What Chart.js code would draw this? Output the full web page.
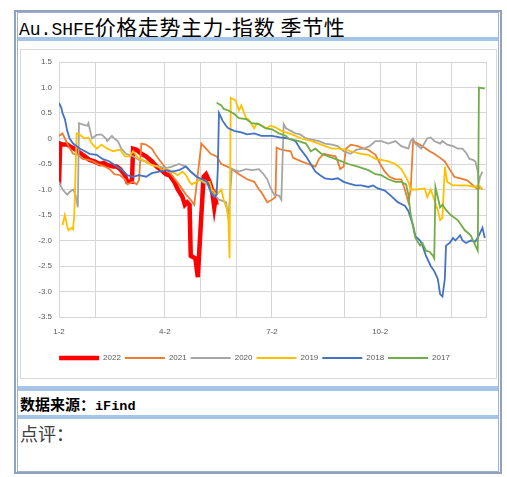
<html>
  <head>
    <meta charset="utf-8">
    <title>Au.SHFE价格走势主力-指数 季节性</title>
    <script src="https://cdn.jsdelivr.net/npm/chart.js@4.4.1/dist/chart.umd.min.js"></script>
    <style>
      body { margin: 0; background: #fff; }
      .abs { position: absolute; box-sizing: border-box; }
      .bar { background: #a6c4e6; }
    </style>
  </head>
  <body>
    <div class="abs" style="left:14px;top:10px;width:488px;height:464px;border:2px solid #8fa3c0;"></div>
    <div class="abs" style="left:17px;top:12px;width:482px;height:460px;border:1px solid #9fb2cd;"></div>
    <div class="abs" style="left:19px;top:14px;font:21px 'Noto Sans CJK SC';letter-spacing:0.6px;line-height:24px;color:#000;white-space:nowrap;"><span style="font:18px 'Liberation Mono';letter-spacing:0;">Au.SHFE</span>价格走势主力-指数 季节性</div>
    <div class="abs bar" style="left:18px;top:37px;width:480px;height:4px;"></div>
    <div class="abs" style="left:20px;top:49px;width:477px;height:330px;border:1px solid #d9d9d9;"></div>
    <canvas id="myChart" class="abs" width="475" height="328" style="left:21px;top:50px;"></canvas>
    <div class="abs bar" style="left:18px;top:386px;width:480px;height:5px;"></div>
    <div class="abs" style="left:20px;top:394px;font:bold 15px 'Noto Sans CJK SC';line-height:20px;color:#000;white-space:nowrap;">数据来源：<span style="font:bold 13.5px 'Liberation Mono';">iFind</span></div>
    <div class="abs bar" style="left:18px;top:415px;width:480px;height:4px;"></div>
    <div class="abs" style="left:20px;top:421px;font:18px 'Noto Sans CJK SC';line-height:24px;color:#404040;">点评：</div>

    <script type="text/javascript">
      // x = days counted from Jan 2
      const gridDays = [0, 31, 90, 120, 151, 181, 243, 273, 304, 334, 363];
      const labelDays = [0, 90, 181, 273];
      const dateLabels = ['1-2', '4-2', '7-2', '10-2'];
      const years = ['2022', '2021', '2020', '2019', '2018', '2017'];

      const s2022 = [[0,-0.9],[1,-0.1],[3,-0.12],[7,-0.12],[9,-0.15],[13,-0.2],[16,-0.25],[19,-0.3],[22,-0.35],[26,-0.42],[30,-0.45],[35,-0.5],[38,-0.48],[41,-0.52],[46,-0.55],[49,-0.55],[52,-0.6],[56,-0.72],[58,-0.85],[62,-0.85],[63,-0.2],[66,-0.22],[70,-0.3],[74,-0.35],[79,-0.45],[83,-0.55],[87,-0.62],[91,-0.7],[94,-0.72],[98,-0.85],[101,-1.0],[105,-1.15],[107,-1.3],[109,-1.25],[111,-1.3],[112,-2.3],[116,-2.35],[118,-2.72],[121,-1.5],[123,-0.75],[125,-0.7],[128,-0.85],[130,-1.0],[132,-1.35],[133,-1.2],[134,-1.3]];
      const s2021 = [[0,0.05],[3,0.1],[5,0],[8,-0.15],[12,-0.3],[16,-0.32],[20,-0.4],[25,-0.42],[29,-0.45],[33,-0.5],[39,-0.55],[43,-0.6],[47,-0.7],[52,-0.72],[56,-0.8],[58,-0.9],[63,-0.85],[66,-0.9],[68,-0.82],[70,-0.1],[74,-0.12],[79,-0.2],[83,-0.35],[88,-0.5],[92,-0.62],[96,-0.72],[102,-0.9],[108,-1.1],[112,-1.2],[115,-1.3],[121,-0.1],[125,-0.2],[129,-0.3],[134,-0.35],[138,-0.5],[143,-0.55],[147,-0.6],[153,-0.7],[160,-0.8],[166,-0.85],[170,-1.0],[172,-1.05],[177,-1.25],[181,-1.2],[184,-1.15],[185,-0.18],[189,-0.22],[197,-0.25],[199,-0.38],[206,-0.45],[212,-0.5],[218,-0.55],[221,-0.4],[225,-0.3],[229,-0.32],[235,-0.35],[237,-0.45],[239,-0.6],[242,-0.55],[244,-0.2],[248,-0.12],[254,-0.15],[259,-0.2],[263,-0.22],[269,-0.32],[273,-0.5],[277,-0.65],[281,-0.75],[286,-0.8],[291,-0.8],[294,-1.0],[297,-1.25],[299,-1.0],[301,-0.05],[305,-0.1],[311,-0.18],[315,-0.25],[319,-0.3],[324,-0.38],[328,-0.45],[332,-0.6],[336,-0.75],[341,-0.78],[347,-0.82],[352,-0.92],[356,-1.0],[358,-0.95],[360,-1.0]];
      const s2020 = [[0,-0.85],[3,-1.0],[7,-1.1],[9,-1.05],[12,-1.0],[14,-1.1],[16,-1.35],[17,0.3],[19,0.28],[24,0.25],[25,0.3],[28,0],[32,0.07],[36,0.08],[40,0],[41,-0.05],[45,0.05],[47,0],[50,-0.05],[53,-0.2],[57,-0.3],[63,-0.35],[68,-0.42],[74,-0.45],[79,-0.52],[85,-0.55],[91,-0.58],[96,-0.55],[102,-0.5],[108,-0.55],[112,-0.65],[117,-0.75],[122,-0.85],[126,-0.9],[130,-1.05],[136,-1.2],[142,-1.25],[144,-1.55],[147,-0.6],[153,-0.65],[159,-0.6],[164,-0.62],[170,-0.6],[174,-0.7],[177,-0.8],[180,-0.98],[183,-1.1],[187,-1.12],[189,-1.2],[191,0.28],[193,0.2],[197,0.15],[201,0.1],[205,0.08],[210,0],[215,-0.02],[221,-0.05],[226,-0.1],[232,-0.12],[237,-0.15],[242,-0.25],[248,-0.3],[253,-0.22],[259,-0.2],[264,-0.15],[269,-0.05],[274,-0.05],[280,-0.1],[286,-0.05],[291,-0.15],[297,-0.2],[299,-0.05],[301,0],[303,-0.1],[308,-0.2],[313,0],[316,0.02],[319,-0.05],[324,-0.1],[326,-0.05],[330,-0.12],[335,-0.15],[339,-0.2],[343,-0.2],[346,-0.28],[349,-0.4],[352,-0.42],[354,-0.45],[356,-0.65],[357,-0.85],[358,-0.75],[360,-0.65]];
      const s2019 = [[3,-1.7],[5,-1.5],[7,-1.72],[8,-1.8],[11,-1.75],[12,-1.78],[13,-1.5],[15,0.1],[16,0.1],[19,0.05],[22,0],[25,0.02],[28,-0.1],[32,-0.2],[36,-0.12],[41,-0.2],[46,-0.25],[52,-0.22],[56,-0.35],[60,-0.35],[63,-0.25],[67,-0.38],[71,-0.42],[75,-0.48],[79,-0.52],[84,-0.55],[88,-0.62],[92,-0.6],[96,-0.65],[101,-0.72],[105,-0.65],[108,-0.72],[111,-0.85],[113,-0.9],[117,-0.85],[121,-0.8],[123,-0.85],[128,-0.85],[130,-1.0],[134,-1.1],[138,-1.0],[140,-1.2],[143,-1.4],[144,-1.6],[145,-2.35],[146,0.8],[150,0.75],[153,0.55],[155,0.65],[159,0.4],[161,0.38],[166,0.2],[168,0.3],[172,0.25],[176,0.2],[180,0.25],[184,0.22],[189,0.15],[198,0.08],[206,0],[215,-0.05],[223,-0.12],[232,-0.2],[240,-0.2],[248,-0.25],[257,-0.3],[263,-0.32],[269,-0.4],[274,-0.42],[280,-0.45],[286,-0.5],[291,-0.6],[294,-0.72],[297,-0.85],[299,-1.0],[305,-1.0],[311,-0.98],[313,-1.15],[316,-1.0],[319,-1.2],[322,-1.4],[324,-1.6],[326,-1.55],[328,-0.55],[330,-0.85],[335,-0.92],[341,-0.92],[347,-0.92],[353,-0.95],[357,-0.92],[360,-1.0]];
      const s2018 = [[0,0.7],[2,0.6],[3,0.5],[5,0.38],[7,0.15],[9,0],[12,-0.1],[18,-0.2],[22,-0.25],[26,-0.3],[32,-0.32],[37,-0.4],[43,-0.45],[49,-0.55],[54,-0.62],[58,-0.72],[63,-0.75],[68,-0.72],[74,-0.75],[79,-0.68],[85,-0.65],[91,-0.62],[96,-0.65],[102,-0.62],[108,-0.55],[112,-0.65],[117,-0.75],[122,-0.8],[126,-0.85],[129,-1.05],[132,-1.15],[134,-1.1],[135,-0.6],[136,0.5],[139,0.35],[142,0.25],[144,0.2],[149,0.15],[155,0.12],[160,0.08],[166,0.1],[172,0.05],[181,0.05],[188,0.02],[195,0],[201,-0.05],[205,-0.2],[210,-0.35],[214,-0.5],[218,-0.65],[222,-0.72],[226,-0.78],[232,-0.8],[237,-0.78],[242,-0.85],[246,-0.88],[252,-0.92],[257,-0.92],[263,-0.95],[267,-0.92],[271,-0.98],[277,-1.02],[282,-1.12],[288,-1.25],[294,-1.32],[297,-1.42],[301,-1.7],[303,-1.92],[307,-2.0],[309,-2.1],[312,-2.3],[316,-2.5],[319,-2.6],[322,-2.75],[324,-3.05],[326,-3.1],[328,-2.75],[329,-2.1],[332,-2.05],[335,-1.95],[337,-2.0],[341,-1.9],[343,-2.0],[346,-2.05],[350,-2.0],[354,-2.02],[357,-1.9],[360,-1.75],[362,-1.95]];
      const s2017 = [[134,0.7],[138,0.65],[140,0.58],[144,0.55],[149,0.48],[153,0.4],[159,0.38],[164,0.3],[170,0.28],[176,0.2],[181,0.18],[187,0.1],[193,0.05],[195,0],[204,-0.05],[210,-0.1],[214,-0.25],[218,-0.2],[223,-0.3],[229,-0.35],[237,-0.42],[246,-0.5],[254,-0.55],[263,-0.62],[269,-0.7],[274,-0.72],[280,-0.8],[286,-0.85],[291,-0.85],[295,-0.9],[297,-1.1],[299,-1.5],[303,-1.95],[307,-2.1],[309,-2.05],[312,-2.2],[315,-2.22],[318,-2.3],[319,-2.35],[320,-0.95],[324,-1.35],[326,-1.3],[329,-1.4],[333,-1.5],[339,-1.6],[345,-1.8],[350,-1.9],[354,-2.1],[356,-2.2],[357,1.0],[362,0.98]];

      const seriesData = [s2022, s2021, s2020, s2019, s2018, s2017];
      const colors = ['#ff0000', '#ed7d31', '#a5a5a5', '#ffc000', '#4472c4', '#70ad47'];
      const widths = [4.5, 1.8, 1.8, 1.8, 1.8, 1.8];
      const gridColor = '#d6d6d6';
      const textColor = '#595959';
      const font = { family: 'Liberation Sans', size: 8 };

      var ctx = document.getElementById('myChart').getContext('2d');
      var chart = new Chart(ctx, {
          type: 'line',
          data: {
              datasets: years.map((y, i) => ({
                  label: y,
                  data: seriesData[i],
                  borderColor: colors[i],
                  backgroundColor: colors[i],
                  borderWidth: widths[i],
                  pointRadius: 0,
                  tension: 0,
                  // later years drawn on top, like the spreadsheet
                  order: years.length - 1 - i
              }))
          },
          options: {
              responsive: false,
              animation: false,
              layout: { padding: { left: 0, right: 8, top: 12, bottom: 6 } },
              plugins: {
                  tooltip: { enabled: false },
                  legend: {
                      position: 'bottom',
                      reverse: true,
                      labels: { boxWidth: 40, boxHeight: 0, padding: 4, color: textColor, font: font }
                  }
              },
              scales: {
                  x: {
                      type: 'linear',
                      min: 0,
                      max: 363,
                      afterBuildTicks: (axis) => { axis.ticks = gridDays.map(v => ({ value: v })); },
                      afterFit: (axis) => { axis.height = 33; },
                      grid: { color: gridColor, drawTicks: false },
                      border: { color: gridColor },
                      ticks: {
                          autoSkip: false,
                          maxRotation: 0,
                          padding: 10,
                          color: textColor,
                          font: font,
                          callback: (v) => { const i = labelDays.indexOf(v); return i < 0 ? '' : dateLabels[i]; }
                      }
                  },
                  y: {
                      min: -3.5,
                      max: 1.5,
                      afterFit: (axis) => { axis.width = 38; },
                      grid: { color: gridColor, drawTicks: false },
                      border: { color: gridColor },
                      ticks: { stepSize: 0.5, padding: 7, color: textColor, font: font }
                  }
              }
          }
      });
    </script>
  </body>
</html>
